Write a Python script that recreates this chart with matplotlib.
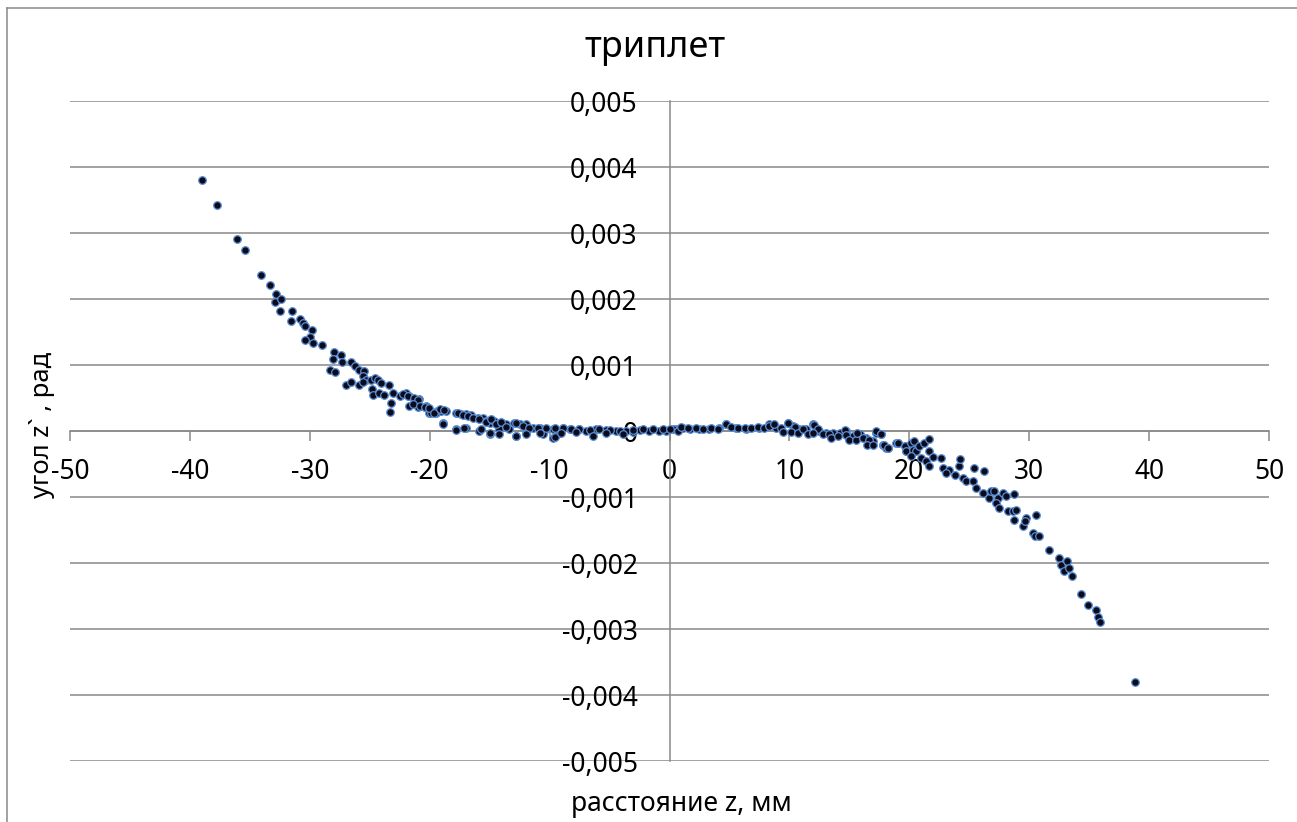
import numpy as np
import matplotlib
matplotlib.use('Agg')
import matplotlib.pyplot as plt
from matplotlib.lines import Line2D

plt.rcParams['font.family'] = ['Noto Sans', 'DejaVu Sans']
plt.rcParams['axes.unicode_minus'] = False

# ------------------------------------------------------------------
# Data: distance z [mm], angle z` [mrad]
# ------------------------------------------------------------------
# left branch, z < -19
z_left = [-38.97, -37.7, -36.1, -35.4, -34.1, -33.3, -32.8, -32.9, -32.4, -32.5,
          -31.5, -31.6, -30.8, -30.6, -30.4, -29.8, -30.0, -30.4, -29.7, -29.0,
          -28.0, -28.1, -27.4, -27.3, -28.3, -27.9, -26.6, -26.2, -25.9, -25.5,
          -25.6, -25.3, -24.9, -24.6, -24.3, -24.1, -23.4, -27.0, -26.6, -25.9,
          -25.6, -24.8, -24.7, -24.2, -23.8, -23.1, -23.2, -23.3, -22.5, -22.0,
          -21.7, -21.2, -20.9, -21.7, -21.0, -20.4, -20.2, -20.1, -19.4]
a_left = [3.80, 3.42, 2.91, 2.74, 2.36, 2.21, 2.08, 1.95, 2.00, 1.82,
          1.82, 1.67, 1.69, 1.64, 1.59, 1.53, 1.43, 1.38, 1.34, 1.30,
          1.20, 1.09, 1.15, 1.05, 0.93, 0.89, 1.05, 0.99, 0.93, 0.91,
          0.83, 0.78, 0.78, 0.81, 0.77, 0.72, 0.69, 0.70, 0.74, 0.69,
          0.74, 0.64, 0.54, 0.58, 0.54, 0.58, 0.43, 0.29, 0.53, 0.58,
          0.53, 0.47, 0.49, 0.38, 0.37, 0.37, 0.37, 0.28, 0.30]

# middle band, -22 < z < 21
z_mid = [-22.24, -21.83, -21.27, -20.99, -21.41, -20.85, -20.30, -19.88, -19.46, -19.05,
         -18.63, -18.91, -17.79, -17.38, -16.96, -16.54, -15.99, -15.57, -15.29, -15.01,
         -14.60, -14.18, -13.62, -12.93, -12.51, -11.96, -17.79, -16.96, -15.85, -15.01,
         -14.18, -13.35, -12.79, -11.96, -11.40, -10.84, -10.29, -9.73, -8.90, -8.34,
         -10.57, -9.73, -9.18, -7.51, -6.95, -6.12, -5.28, -4.45, -3.62, -3.06,
         -2.50, -1.67, -0.84, -0.28, 0.55, 1.11, 1.67, 2.50, 3.33, 4.17,
         4.72, 5.56, 6.39, 7.50, 8.34, 8.90, 9.87, 10.29, 10.84, 11.40,
         11.95, 12.51, 13.07, 13.62, 14.18, 14.73, 15.29, 15.85, 16.40, 16.96,
         17.24, 17.79, 18.21, 18.90,
         -20.43, -20.02, -19.60, -19.18, -18.77, -18.90, -17.65, -17.24, -16.82, -16.40,
         -15.85, -15.29, -14.87, -14.46, -14.04, -13.62, -12.79, -12.23, -11.68, -10.98,
         -10.29, -9.59, -8.90, -8.20, -7.51, -6.67, -5.84, -5.00, -4.17, -3.06,
         -2.22, -1.39, -0.56, -17.79, -17.10, -15.71, -15.01, -14.18, -12.79, -11.95,
         -10.84, -9.59, -9.04, -7.78, -6.39, -5.28, -3.89, 0.28,
         0.00, 0.70, 0.97, 1.53, 2.22, 2.78, 3.47, 4.03, 4.73, 5.14,
         5.70, 6.26, 6.81, 7.37, 7.92, 8.34, 8.70, 9.31, 9.45, 9.92,
         10.43, 10.15, 10.70, 11.12, 11.54, 12.04, 12.37, 11.95, 12.79, 13.34,
         13.48, 14.04, 14.60, 14.74, 15.01, 15.57, 15.65, 16.13, 16.68, 16.49,
         16.96, 17.24, 17.65, 17.79, 18.07, 19.04, 19.60, 19.74, 20.29, 20.43]
a_mid = [0.554, 0.529, 0.503, 0.468, 0.402, 0.377, 0.377, 0.276, 0.276, 0.301,
         0.301, 0.124, 0.276, 0.250, 0.250, 0.235, 0.200, 0.200, 0.149, 0.124,
         0.149, 0.124, 0.099, 0.124, 0.099, 0.099, 0.023, 0.048, -0.002, -0.053,
         0.023, 0.023, -0.078, -0.028, 0.048, 0.048, 0.033, 0.023, 0.048, 0.023,
         -0.053, -0.104, -0.028, 0.023, -0.002, 0.023, 0.013, -0.002, -0.002, -0.017,
         0.013, -0.002, -0.002, -0.002, 0.023, 0.048, 0.033, 0.023, 0.033, 0.048,
         0.099, 0.048, 0.033, 0.048, 0.099, 0.048, 0.124, 0.073, 0.023, 0.023,
         0.099, -0.002, -0.028, -0.028, -0.028, -0.002, -0.078, -0.053, -0.104, -0.154,
         -0.028, -0.205, -0.255, -0.180,
         0.362, 0.352, 0.276, 0.326, 0.311, 0.109, 0.276, 0.240, 0.225, 0.190,
         0.175, 0.139, 0.175, 0.109, 0.139, 0.058, 0.124, 0.073, 0.048, 0.048,
         0.038, 0.048, 0.048, 0.023, 0.023, 0.008, 0.023, 0.008, -0.002, 0.008,
         0.023, 0.023, 0.023, 0.008, 0.048, 0.023, -0.028, -0.043, -0.078, -0.043,
         -0.028, -0.093, -0.028, -0.013, -0.078, -0.028, -0.043, 0.023,
         0.023, -0.002, 0.058, 0.048, 0.048, 0.023, 0.048, 0.023, 0.099, 0.058,
         0.048, 0.038, 0.038, 0.058, 0.048, 0.073, 0.099, 0.048, -0.013, 0.124,
         0.058, -0.013, -0.028, 0.023, -0.043, 0.089, 0.023, -0.028, -0.043, -0.053,
         -0.104, -0.078, 0.008, -0.063, -0.129, -0.129, -0.028, -0.104, -0.129, -0.205,
         -0.205, -0.002, -0.053, -0.205, -0.255, -0.180, -0.230, -0.296, -0.205, -0.296]

# right branch, z > 17
z_right = [17.65, 17.93, 18.21, 19.04, 19.60, 19.73, 20.15, 20.43, 20.29, 20.57,
           20.15, 20.85, 21.26, 21.62, 21.62, 20.98, 21.40, 21.68, 21.96, 22.65,
           22.79, 23.35, 23.07, 23.77, 24.18, 24.24, 24.46, 24.74, 25.29, 25.43,
           25.57, 26.27, 26.13, 26.68, 26.82, 27.10, 27.38, 27.24, 27.52, 27.80,
           28.07, 28.21, 28.63, 28.71, 28.91, 28.77, 29.47, 29.74, 29.66, 30.58,
           30.35, 30.52, 30.85, 31.69, 32.52, 32.66, 32.94, 33.13, 33.36, 33.58,
           34.33, 34.94, 35.58, 35.72, 35.91, 38.81]
a_right = [-0.053, -0.205, -0.255, -0.180, -0.230, -0.306, -0.180, -0.154, -0.281, -0.306,
           -0.382, -0.230, -0.180, -0.119, -0.306, -0.407, -0.458, -0.534, -0.392, -0.407,
           -0.559, -0.584, -0.635, -0.660, -0.534, -0.417, -0.711, -0.761, -0.761, -0.559,
           -0.862, -0.610, -0.938, -1.014, -0.913, -0.913, -1.014, -1.090, -1.166, -0.938,
           -0.989, -1.216, -1.216, -0.953, -1.191, -1.343, -1.444, -1.317, -1.368, -1.267,
           -1.545, -1.586, -1.596, -1.798, -1.925, -2.026, -2.127, -1.975, -2.076, -2.203,
           -2.471, -2.633, -2.719, -2.820, -2.901, -3.796]

x_ticks = [-50, -40, -30, -20, -10, 0, 10, 20, 30, 40, 50]
y_ticks = [-0.005, -0.004, -0.003, -0.002, -0.001, 0, 0.001, 0.002, 0.003, 0.004, 0.005]

title = 'триплет'
xlabel = 'расстояние z, мм'
ylabel = 'угол z` , рад'

z = np.array(z_left + z_mid + z_right)
angle = np.array(a_left + a_mid + a_right) * 1e-3

W, H = 1297, 822
fig = plt.figure(figsize=(W / 100, H / 100), dpi=100)
ax = fig.add_axes([70 / W, 1 - 761 / H, 1199 / W, 660 / H])

grey = '#898989'
ax.set_xlim(-50, 50)
ax.set_ylim(-0.005, 0.005)
ax.set_xticks(x_ticks)
ax.set_yticks(y_ticks)
ax.set_yticklabels(['0' if v == 0 else ('%.3f' % v).replace('.', ',') for v in y_ticks])

for s in ['top', 'right']:
    ax.spines[s].set_visible(False)
ax.spines['left'].set_position(('data', 0))
ax.spines['bottom'].set_position(('data', 0))
for s in ['left', 'bottom']:
    ax.spines[s].set_color(grey)
    ax.spines[s].set_linewidth(1.1)

ax.yaxis.grid(True, color=grey, linewidth=1.1)
ax.set_axisbelow(True)
ax.tick_params(axis='x', direction='out', length=7.5, width=1.1, color=grey,
               pad=12, labelsize=19)
ax.tick_params(axis='y', length=0, pad=23, labelsize=19)

ax.scatter(z, angle, s=30, facecolor='#0b0b1c', edgecolor='#5b8fd4',
           linewidth=0.9, zorder=3, clip_on=False)

fig.text(655 / W, 1 - 48 / H, title, ha='center', va='center', fontsize=26)
fig.text(681 / W, 1 - 804 / H, xlabel, ha='center', va='center', fontsize=19)
fig.text(42 / W, 1 - 425 / H, ylabel, ha='center', va='center', fontsize=18.5,
         rotation=90)

# chart frame (cut off at right and bottom)
fig.add_artist(Line2D([7 / W, 7 / W], [0, 1 - 8 / H], color=grey, lw=1.1))
fig.add_artist(Line2D([7 / W, 1], [1 - 8 / H, 1 - 8 / H], color=grey, lw=1.1))

fig.savefig('out.png', dpi=100)
